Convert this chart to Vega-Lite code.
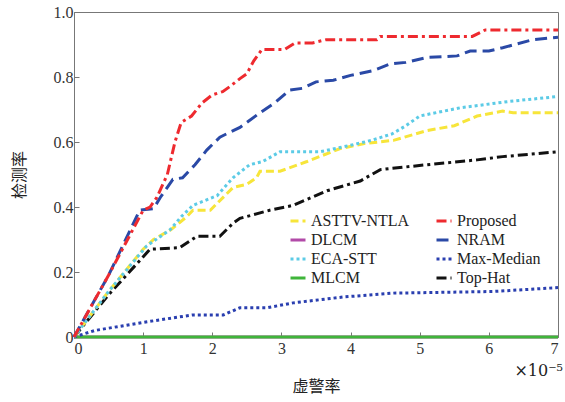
{
  "$schema": "https://vega.github.io/schema/vega-lite/v6.json",
  "width": 484,
  "height": 325,
  "autosize": {"type": "none"},
  "padding": {"left": 74, "top": 12, "right": 7, "bottom": 65},
  "background": "white",
  "config": {
    "view": {"stroke": "#777", "strokeWidth": 1},
    "axis": {
      "grid": false,
      "domainColor": "#777",
      "tickColor": "#777",
      "tickSize": -5,
      "labelFont": "'Liberation Serif', 'Times New Roman', serif",
      "labelFontSize": 16,
      "labelColor": "#333",
      "titleFont": "Noto Sans CJK SC",
      "titleFontSize": 16,
      "titleFontWeight": "normal",
      "titleColor": "#222"
    }
  },
  "datasets": {
    "roc": [
      {"m": "DLCM", "x": 0, "y": 0}, {"m": "DLCM", "x": 7, "y": 0},
      {"m": "MLCM", "x": 0, "y": 0}, {"m": "MLCM", "x": 7, "y": 0},
      {"m": "Max-Median", "x": 0, "y": 0}, {"m": "Max-Median", "x": 0.3, "y": 0.02}, {"m": "Max-Median", "x": 1.0, "y": 0.045}, {"m": "Max-Median", "x": 1.72, "y": 0.068}, {"m": "Max-Median", "x": 2.16, "y": 0.068}, {"m": "Max-Median", "x": 2.4, "y": 0.09}, {"m": "Max-Median", "x": 2.79, "y": 0.09}, {"m": "Max-Median", "x": 3.17, "y": 0.105}, {"m": "Max-Median", "x": 3.89, "y": 0.123}, {"m": "Max-Median", "x": 4.62, "y": 0.135}, {"m": "Max-Median", "x": 6.06, "y": 0.14}, {"m": "Max-Median", "x": 7, "y": 0.152},
      {"m": "Top-Hat", "x": 0, "y": 0}, {"m": "Top-Hat", "x": 0.5, "y": 0.13}, {"m": "Top-Hat", "x": 1.1, "y": 0.27}, {"m": "Top-Hat", "x": 1.53, "y": 0.275}, {"m": "Top-Hat", "x": 1.78, "y": 0.31}, {"m": "Top-Hat", "x": 2.11, "y": 0.31}, {"m": "Top-Hat", "x": 2.3, "y": 0.35}, {"m": "Top-Hat", "x": 2.4, "y": 0.365}, {"m": "Top-Hat", "x": 2.83, "y": 0.39}, {"m": "Top-Hat", "x": 3.17, "y": 0.405}, {"m": "Top-Hat", "x": 3.66, "y": 0.45}, {"m": "Top-Hat", "x": 4.14, "y": 0.48}, {"m": "Top-Hat", "x": 4.43, "y": 0.515}, {"m": "Top-Hat", "x": 5.1, "y": 0.53}, {"m": "Top-Hat", "x": 5.83, "y": 0.545}, {"m": "Top-Hat", "x": 6.2, "y": 0.555}, {"m": "Top-Hat", "x": 7, "y": 0.57},
      {"m": "ASTTV-NTLA", "x": 0, "y": 0}, {"m": "ASTTV-NTLA", "x": 0.5, "y": 0.14}, {"m": "ASTTV-NTLA", "x": 1.0, "y": 0.27}, {"m": "ASTTV-NTLA", "x": 1.15, "y": 0.3}, {"m": "ASTTV-NTLA", "x": 1.4, "y": 0.33}, {"m": "ASTTV-NTLA", "x": 1.63, "y": 0.37}, {"m": "ASTTV-NTLA", "x": 1.72, "y": 0.39}, {"m": "ASTTV-NTLA", "x": 1.97, "y": 0.39}, {"m": "ASTTV-NTLA", "x": 2.3, "y": 0.46}, {"m": "ASTTV-NTLA", "x": 2.5, "y": 0.47}, {"m": "ASTTV-NTLA", "x": 2.64, "y": 0.49}, {"m": "ASTTV-NTLA", "x": 2.69, "y": 0.51}, {"m": "ASTTV-NTLA", "x": 2.98, "y": 0.51}, {"m": "ASTTV-NTLA", "x": 3.37, "y": 0.54}, {"m": "ASTTV-NTLA", "x": 3.85, "y": 0.58}, {"m": "ASTTV-NTLA", "x": 4.2, "y": 0.595}, {"m": "ASTTV-NTLA", "x": 4.62, "y": 0.605}, {"m": "ASTTV-NTLA", "x": 5.1, "y": 0.635}, {"m": "ASTTV-NTLA", "x": 5.5, "y": 0.65}, {"m": "ASTTV-NTLA", "x": 5.83, "y": 0.68}, {"m": "ASTTV-NTLA", "x": 6.2, "y": 0.695}, {"m": "ASTTV-NTLA", "x": 6.35, "y": 0.69}, {"m": "ASTTV-NTLA", "x": 7, "y": 0.69},
      {"m": "ECA-STT", "x": 0, "y": 0}, {"m": "ECA-STT", "x": 0.5, "y": 0.14}, {"m": "ECA-STT", "x": 1.05, "y": 0.28}, {"m": "ECA-STT", "x": 1.39, "y": 0.33}, {"m": "ECA-STT", "x": 1.55, "y": 0.37}, {"m": "ECA-STT", "x": 1.72, "y": 0.405}, {"m": "ECA-STT", "x": 2.07, "y": 0.435}, {"m": "ECA-STT", "x": 2.3, "y": 0.49}, {"m": "ECA-STT", "x": 2.54, "y": 0.53}, {"m": "ECA-STT", "x": 2.73, "y": 0.54}, {"m": "ECA-STT", "x": 2.98, "y": 0.57}, {"m": "ECA-STT", "x": 3.56, "y": 0.57}, {"m": "ECA-STT", "x": 4.0, "y": 0.59}, {"m": "ECA-STT", "x": 4.3, "y": 0.605}, {"m": "ECA-STT", "x": 4.6, "y": 0.625}, {"m": "ECA-STT", "x": 4.8, "y": 0.65}, {"m": "ECA-STT", "x": 5.0, "y": 0.68}, {"m": "ECA-STT", "x": 5.58, "y": 0.705}, {"m": "ECA-STT", "x": 6.3, "y": 0.725}, {"m": "ECA-STT", "x": 7, "y": 0.74},
      {"m": "NRAM", "x": 0, "y": 0}, {"m": "NRAM", "x": 0.5, "y": 0.19}, {"m": "NRAM", "x": 0.95, "y": 0.39}, {"m": "NRAM", "x": 1.15, "y": 0.395}, {"m": "NRAM", "x": 1.25, "y": 0.43}, {"m": "NRAM", "x": 1.43, "y": 0.485}, {"m": "NRAM", "x": 1.57, "y": 0.49}, {"m": "NRAM", "x": 1.75, "y": 0.53}, {"m": "NRAM", "x": 1.92, "y": 0.575}, {"m": "NRAM", "x": 2.11, "y": 0.615}, {"m": "NRAM", "x": 2.4, "y": 0.645}, {"m": "NRAM", "x": 2.69, "y": 0.69}, {"m": "NRAM", "x": 2.9, "y": 0.72}, {"m": "NRAM", "x": 3.12, "y": 0.76}, {"m": "NRAM", "x": 3.3, "y": 0.765}, {"m": "NRAM", "x": 3.5, "y": 0.785}, {"m": "NRAM", "x": 3.75, "y": 0.79}, {"m": "NRAM", "x": 4.0, "y": 0.805}, {"m": "NRAM", "x": 4.33, "y": 0.82}, {"m": "NRAM", "x": 4.57, "y": 0.84}, {"m": "NRAM", "x": 4.8, "y": 0.845}, {"m": "NRAM", "x": 5.1, "y": 0.86}, {"m": "NRAM", "x": 5.54, "y": 0.865}, {"m": "NRAM", "x": 5.73, "y": 0.88}, {"m": "NRAM", "x": 6.0, "y": 0.88}, {"m": "NRAM", "x": 6.2, "y": 0.89}, {"m": "NRAM", "x": 6.64, "y": 0.915}, {"m": "NRAM", "x": 7, "y": 0.922},
      {"m": "Proposed", "x": 0, "y": 0}, {"m": "Proposed", "x": 0.5, "y": 0.19}, {"m": "Proposed", "x": 1.0, "y": 0.39}, {"m": "Proposed", "x": 1.1, "y": 0.4}, {"m": "Proposed", "x": 1.2, "y": 0.43}, {"m": "Proposed", "x": 1.35, "y": 0.5}, {"m": "Proposed", "x": 1.46, "y": 0.6}, {"m": "Proposed", "x": 1.55, "y": 0.66}, {"m": "Proposed", "x": 1.7, "y": 0.68}, {"m": "Proposed", "x": 1.85, "y": 0.72}, {"m": "Proposed", "x": 2.0, "y": 0.745}, {"m": "Proposed", "x": 2.15, "y": 0.755}, {"m": "Proposed", "x": 2.25, "y": 0.77}, {"m": "Proposed", "x": 2.4, "y": 0.795}, {"m": "Proposed", "x": 2.5, "y": 0.81}, {"m": "Proposed", "x": 2.6, "y": 0.85}, {"m": "Proposed", "x": 2.72, "y": 0.885}, {"m": "Proposed", "x": 3.05, "y": 0.885}, {"m": "Proposed", "x": 3.2, "y": 0.905}, {"m": "Proposed", "x": 3.45, "y": 0.905}, {"m": "Proposed", "x": 3.65, "y": 0.915}, {"m": "Proposed", "x": 4.38, "y": 0.915}, {"m": "Proposed", "x": 4.43, "y": 0.925}, {"m": "Proposed", "x": 5.76, "y": 0.925}, {"m": "Proposed", "x": 5.95, "y": 0.945}, {"m": "Proposed", "x": 7, "y": 0.945}
    ]
  },
  "layer": [
    {
      "data": {"name": "roc"},
      "mark": {"type": "line", "strokeWidth": 3, "clip": false},
      "encoding": {
        "x": {
          "field": "x", "type": "quantitative",
          "scale": {"domain": [0, 7], "nice": false},
          "axis": {"values": [0, 1, 2, 3, 4, 5, 6, 7], "format": "d", "title": "虚警率", "titlePadding": 22, "labelPadding": 8}
        },
        "y": {
          "field": "y", "type": "quantitative",
          "scale": {"domain": [0, 1], "nice": false},
          "axis": {"values": [0, 0.2, 0.4, 0.6, 0.8, 1.0], "labelExpr": "datum.value == 0 ? '0' : format(datum.value, '.1f')", "title": "检测率", "titlePadding": 26, "labelPadding": 6}
        },
        "color": {
          "field": "m", "type": "nominal", "title": null,
          "scale": {
            "domain": ["ASTTV-NTLA", "DLCM", "ECA-STT", "MLCM", "Proposed", "NRAM", "Max-Median", "Top-Hat"],
            "range": ["#f7e53a", "#b24aa8", "#5ccbe6", "#3fb53a", "#ee2a2f", "#2a49a6", "#2a3fb0", "#111111"]
          },
          "legend": {
            "orient": "none", "legendX": 215, "legendY": 200, "columns": 2,
            "columnPadding": 20, "rowPadding": 2,
            "symbolType": "stroke", "symbolSize": 225, "symbolStrokeWidth": 3,
            "labelFont": "'Liberation Serif', 'Times New Roman', serif", "labelFontSize": 16, "labelColor": "#222"
          }
        },
        "strokeDash": {
          "field": "m", "type": "nominal", "title": null,
          "scale": {
            "domain": ["ASTTV-NTLA", "DLCM", "ECA-STT", "MLCM", "Proposed", "NRAM", "Max-Median", "Top-Hat"],
            "range": [[8, 4], [1, 0], [3, 3], [1, 0], [10, 4, 3, 4], [12, 6], [3, 3], [10, 4, 3, 4]]
          }
        },
        "order": {"field": "x", "type": "quantitative"}
      }
    },
    {
      "data": {"values": [{"note": "×10⁻⁵"}]},
      "mark": {"type": "text", "align": "right", "baseline": "top", "dy": 26, "dx": 5, "font": "DejaVu Serif", "fontSize": 16, "color": "#222"},
      "encoding": {
        "x": {"datum": 7, "type": "quantitative"},
        "y": {"datum": 0, "type": "quantitative"},
        "text": {"field": "note", "type": "nominal"}
      }
    }
  ]
}
